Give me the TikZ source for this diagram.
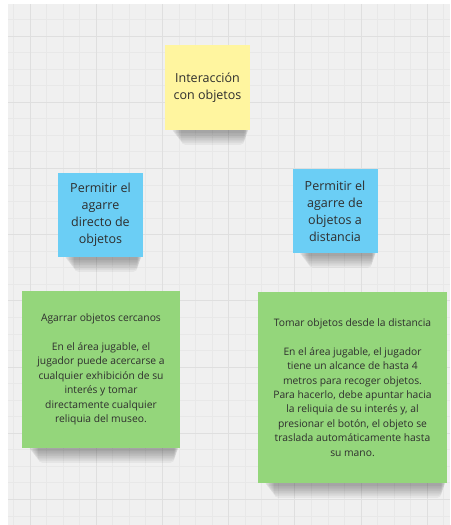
\documentclass[tikz,border=0pt]{standalone}
\usepackage{fontspec}
\setmainfont{Open Sans}
\usepackage{tikz}
\usetikzlibrary{backgrounds}

\definecolor{boardgray}{HTML}{F0F0F0}
\definecolor{gridminor}{HTML}{E8E8E8}
\definecolor{gridmajor}{HTML}{DFDFDF}
\definecolor{stickyyellow}{HTML}{FFF59F}
\definecolor{stickyblue}{HTML}{6BCEF5}
\definecolor{stickygreen}{HTML}{94D67B}
\definecolor{inktext}{HTML}{2E2E2E}

\begin{document}
\begin{tikzpicture}[
x=1pt, y=-1pt,
note/.style={
  rectangle,
  draw=none,
  inner sep=0pt,
  align=center,
  text=inktext
  },
smallnote/.style={
  note,
  minimum width=85pt,
  minimum height=85pt,
  font=\fontsize{12.5}{17}\selectfont
  },
yellownote/.style={
  smallnote,
  fill=stickyyellow
  },
bluenote/.style={
  smallnote,
  fill=stickyblue
  },
greennote/.style={
  note,
  fill=stickygreen,
  font=\fontsize{10.3}{14.4}\selectfont
  },
shadowlayer/.style={
  fill=black,
  opacity=0.045
  }
]
\useasboundingbox (0,0) rectangle (450,525);

\node[yellownote] (topic) at (207.5,87.5) {Interacción\\con objetos};
\node[bluenote, minimum height=84pt] (direct) at (100.5,215) {Permitir el\\agarre\\directo de\\objetos};
\node[bluenote, minimum height=84pt] (remote) at (335,211) {Permitir el\\agarre de\\objetos a\\distancia};

\node[greennote, minimum width=158pt, minimum height=157pt] (near) at (101,369.5)
  {Agarrar objetos cercanos\\[14.4pt]
   En el área jugable, el\\
   jugador puede acercarse a\\
   cualquier exhibición de su\\
   interés y tomar\\
   directamente cualquier\\
   reliquia del museo.};
\node[greennote, minimum width=189pt, minimum height=191pt] (far) at (352.5,387.5)
  {Tomar objetos desde la distancia\\[14.4pt]
   En el área jugable, el jugador\\
   tiene un alcance de hasta 4\\
   metros para recoger objetos.\\
   Para hacerlo, debe apuntar hacia\\
   la reliquia de su interés y, al\\
   presionar el botón, el objeto se\\
   traslada automáticamente hasta\\
   su mano.};

\begin{scope}[on background layer]
% board and grid
\fill[boardgray] (8,4) rectangle (450,525);
\begin{scope}
\clip (8,4) rectangle (450,525);
\foreach \k in {-1,...,25}
  \draw[gridminor, line width=0.8pt] ({30+16.55*\k},4) -- ({30+16.55*\k},525);
\foreach \k in {-2,...,29}
  \draw[gridminor, line width=0.8pt] (8,{36+16.55*\k}) -- (450,{36+16.55*\k});
\foreach \k in {0,...,6}
  \draw[gridmajor, line width=1pt] ({30+66.2*\k},4) -- ({30+66.2*\k},525);
\foreach \k in {0,...,7}
  \draw[gridmajor, line width=1pt] (8,{36+66.2*\k}) -- (450,{36+66.2*\k});
\end{scope}
% shadows under the notes
\foreach \n in {topic,direct,remote,near,far}
  \foreach \i in {1,...,8}
    \fill[shadowlayer, rounded corners=4pt]
      ([xshift={(6+1.3*\i)*1pt}, yshift=6pt]\n.south west)
      rectangle ([xshift={(-1-0.6*\i)*1pt}, yshift={(-1-1.7*\i)*1pt}]\n.south east);
\end{scope}
\end{tikzpicture}
\end{document}
